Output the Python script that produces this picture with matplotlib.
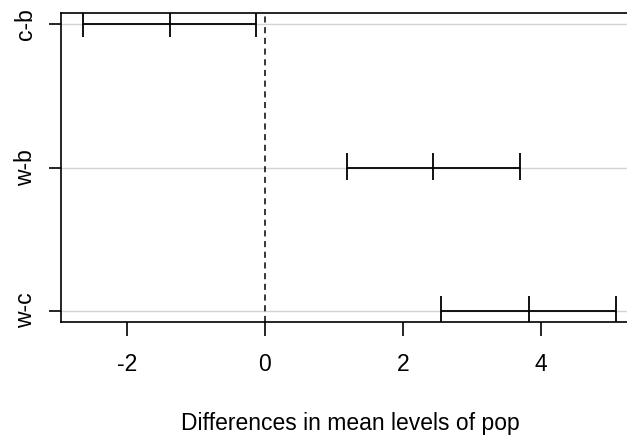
import matplotlib
matplotlib.use("Agg")
import matplotlib.pyplot as plt

comparisons = ["w-c", "w-b", "c-b"]
diff = [3.82, 2.43, -1.37]
lwr = [2.55, 1.19, -2.64]
upr = [5.09, 3.70, -0.13]
xticks = [-2, 0, 2, 4]

plt.rcParams['font.family'] = ['Liberation Sans', 'DejaVu Sans']

fig = plt.figure(figsize=(6.27, 4.38), dpi=100)
W, H = 627, 438
ax = fig.add_axes([61 / W, 116 / H, 579 / W, 309 / H])

ypos = list(range(1, len(comparisons) + 1))
for y in ypos:
    ax.axhline(y, color='#d3d3d3', lw=1.0, zorder=1)
ax.axvline(0, color='black', lw=1.1, ls=(0, (4, 3)), zorder=2)

ax.hlines(ypos, lwr, upr, color='black', lw=1.3, zorder=3)
for y, l, d, u in zip(ypos, lwr, diff, upr):
    ax.vlines([l, d, u], y - 0.09, y + 0.1, color='black', lw=1.3, zorder=3)

ax.set_xlim(-2.956, 5.435)
ax.set_ylim(0.92, 3.08)
ax.set_xticks(xticks)
ax.set_xticklabels([str(t) for t in xticks], fontsize=16.5)
ax.set_yticks(ypos)
ax.set_yticklabels(comparisons, rotation=90, va='center', fontsize=16.5)
ax.tick_params(axis='x', length=10, width=1.2, pad=12)
ax.tick_params(axis='y', length=9, width=1.2, pad=8)
ax.set_xlabel("Differences in mean levels of pop", fontsize=16.5, labelpad=26)
for s in ax.spines.values():
    s.set_linewidth(1.2)

fig.savefig("out.png", dpi=100)
